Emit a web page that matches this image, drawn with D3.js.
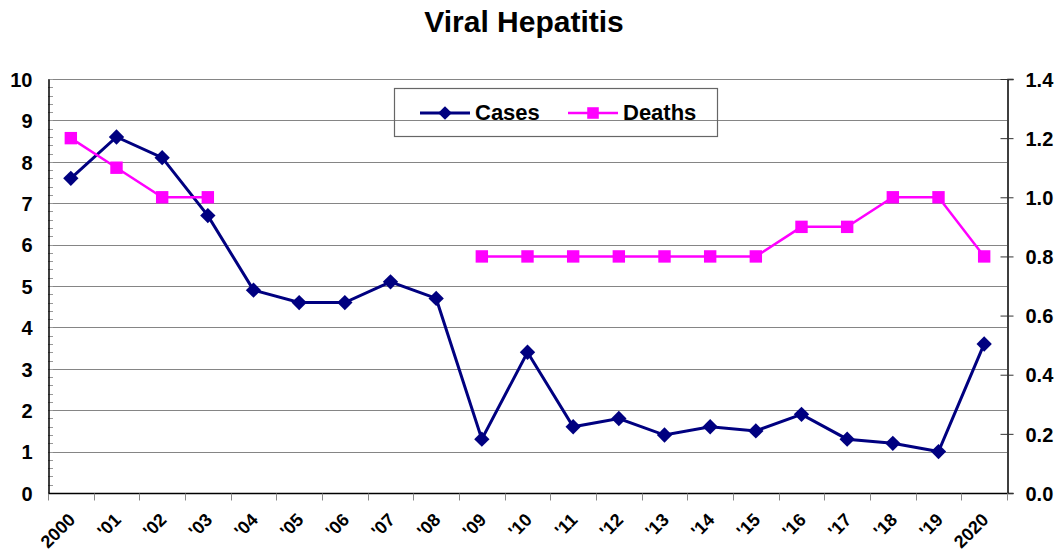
<!DOCTYPE html>
<html>
<head>
<meta charset="utf-8">
<script src="https://cdn.jsdelivr.net/npm/d3@7"></script>
<style>
  body { margin: 0; background: #fff; }
  svg text { font-family: "Liberation Sans", Arial, sans-serif; font-weight: bold; fill: #000; }
</style>
</head>
<body>
<div id="chart"></div>
<script>
// data
const years = ['2000', "'01", "'02", "'03", "'04", "'05", "'06", "'07", "'08", "'09", "'10",
  "'11", "'12", "'13", "'14", "'15", "'16", "'17", "'18", "'19", '2020'];
const cases = [7.6, 8.6, 8.1, 6.7, 4.9, 4.6, 4.6, 5.1, 4.7, 1.3, 3.4, 1.6, 1.8, 1.4, 1.6, 1.5, 1.9, 1.3, 1.2, 1.0, 3.6];
const deaths = [1.2, 1.1, 1.0, 1.0, null, null, null, null, null, 0.8, 0.8, 0.8, 0.8, 0.8, 0.8, 0.8, 0.9, 0.9, 1.0, 1.0, 0.8];
const leftTicks = [0, 1, 2, 3, 4, 5, 6, 7, 8, 9, 10];
const rightTicks = [0, 0.2, 0.4, 0.6, 0.8, 1.0, 1.2, 1.4];

const width = 1060, height = 552;
const margin = {top: 79, right: 53, bottom: 59, left: 48};

const svg = d3.select('#chart').append('svg')
  .attr('width', width).attr('height', height)
  .attr('viewBox', [0, 0, width, height]);

const xScale = d3.scaleBand().domain(years)
  .range([margin.left, width - margin.right]).padding(0);
const yLeft = d3.scaleLinear().domain([0, 10]).range([height - margin.bottom, margin.top]);
const yRight = d3.scaleLinear().domain([0, 1.4]).range([height - margin.bottom, margin.top]);
const cx = d => xScale(d) + xScale.bandwidth() / 2;

// title
svg.append('text')
  .attr('x', 524).attr('y', 32)
  .attr('text-anchor', 'middle')
  .style('font-size', '30px')
  .text('Viral Hepatitis');

// gridlines
svg.append('g')
  .selectAll('line').data(leftTicks.filter(d => d > 0))
  .join('line')
  .attr('x1', margin.left).attr('x2', width - margin.right)
  .attr('y1', d => Math.round(yLeft(d)) + 0.5).attr('y2', d => Math.round(yLeft(d)) + 0.5)
  .attr('stroke', '#858585').attr('stroke-width', 1);

// left axis minor ticks (inside)
const minor = d3.range(0, 10.01, 0.2);
svg.append('g')
  .selectAll('line').data(minor)
  .join('line')
  .attr('x1', margin.left).attr('x2', margin.left + 5)
  .attr('y1', d => Math.round(yLeft(d)) + 0.5).attr('y2', d => Math.round(yLeft(d)) + 0.5)
  .attr('stroke', '#999');

// left axis
const yAxisL = svg.append('g')
  .attr('transform', `translate(${margin.left + 0.5},0)`)
  .call(d3.axisLeft(yLeft).tickValues(leftTicks).tickSize(0).tickPadding(16).tickFormat(d3.format('d')));
yAxisL.select('.domain').attr('stroke', '#000').attr('stroke-width', 1.5);
yAxisL.selectAll('.tick text').style('font-size', '20px').attr('dy', '0.36em');

// right axis
const yAxisR = svg.append('g')
  .attr('transform', `translate(${width - margin.right + 0.5},0)`)
  .call(d3.axisRight(yRight).tickValues(rightTicks).tickSize(6).tickPadding(12).tickFormat(d3.format('.1f')));
yAxisR.select('.domain').attr('stroke', '#000').attr('stroke-width', 1.5);
yAxisR.selectAll('.tick line').attr('x1', -7).attr('x2', 6).attr('stroke', '#333');
yAxisR.selectAll('.tick text').style('font-size', '20px').attr('dy', '0.36em');

// bottom axis
const xAxisG = svg.append('g')
  .attr('transform', `translate(0,${height - margin.bottom + 0.5})`);
xAxisG.append('line')
  .attr('x1', margin.left).attr('x2', width - margin.right)
  .attr('stroke', '#000').attr('stroke-width', 1.5);
const bounds = years.map(d => xScale(d)).concat([width - margin.right]);
xAxisG.selectAll('.xtick').data(bounds)
  .join('line').attr('class', 'xtick')
  .attr('x1', d => Math.round(d) + 0.5).attr('x2', d => Math.round(d) + 0.5)
  .attr('y1', 0).attr('y2', 7)
  .attr('stroke', '#888');
xAxisG.selectAll('.xlabel').data(years)
  .join('text').attr('class', 'xlabel')
  .attr('transform', d => `translate(${cx(d) + 1},${23}) rotate(-45)`)
  .attr('text-anchor', 'end')
  .attr('dy', '0.35em')
  .style('font-size', '18px')
  .text(d => d);

// legend (transparent box)
const legend = svg.append('g');
legend.append('rect')
  .attr('x', 394.5).attr('y', 88.5).attr('width', 323).attr('height', 48)
  .attr('fill', 'none').attr('stroke', '#666').attr('stroke-width', 1.2);

const diamond = d3.symbol().type(d3.symbolDiamond2);
const square = d3.symbol().type(d3.symbolSquare2);

// lines
const lineCases = d3.line()
  .x((d, i) => cx(years[i]))
  .y(d => yLeft(d));
svg.append('path')
  .datum(cases)
  .attr('d', lineCases)
  .attr('fill', 'none').attr('stroke', '#000080').attr('stroke-width', 3);

const lineDeaths = d3.line()
  .defined(d => d !== null)
  .x((d, i) => cx(years[i]))
  .y(d => yRight(d));
svg.append('path')
  .datum(deaths)
  .attr('d', lineDeaths)
  .attr('fill', 'none').attr('stroke', '#ff00ff').attr('stroke-width', 2.5);

svg.append('g').selectAll('path')
  .data(deaths.map((d, i) => ({v: d, y: years[i]})).filter(d => d.v !== null))
  .join('path')
  .attr('transform', d => `translate(${cx(d.y)},${yRight(d.v)})`)
  .attr('d', square.size(196))
  .attr('fill', '#ff00ff');

svg.append('g').selectAll('path')
  .data(cases.map((d, i) => ({v: d, y: years[i]})))
  .join('path')
  .attr('transform', d => `translate(${cx(d.y)},${yLeft(d.v)})`)
  .attr('d', diamond.size(150))
  .attr('fill', '#000080');

// legend items
const legendItems = [
  {name: 'Cases', color: '#000080', x: 420, sym: diamond.size(120), w: 3},
  {name: 'Deaths', color: '#ff00ff', x: 568, sym: square.size(170), w: 2.5}
];
legendItems.forEach(it => {
  const g = legend.append('g').attr('transform', `translate(${it.x},113)`);
  g.append('line').attr('x1', 0).attr('x2', 50).attr('stroke', it.color).attr('stroke-width', it.w);
  g.append('path').attr('transform', 'translate(25,0)').attr('d', it.sym).attr('fill', it.color);
  g.append('text').attr('x', 55).attr('y', 7).style('font-size', '22px').text(it.name);
});
</script>
</body>
</html>
